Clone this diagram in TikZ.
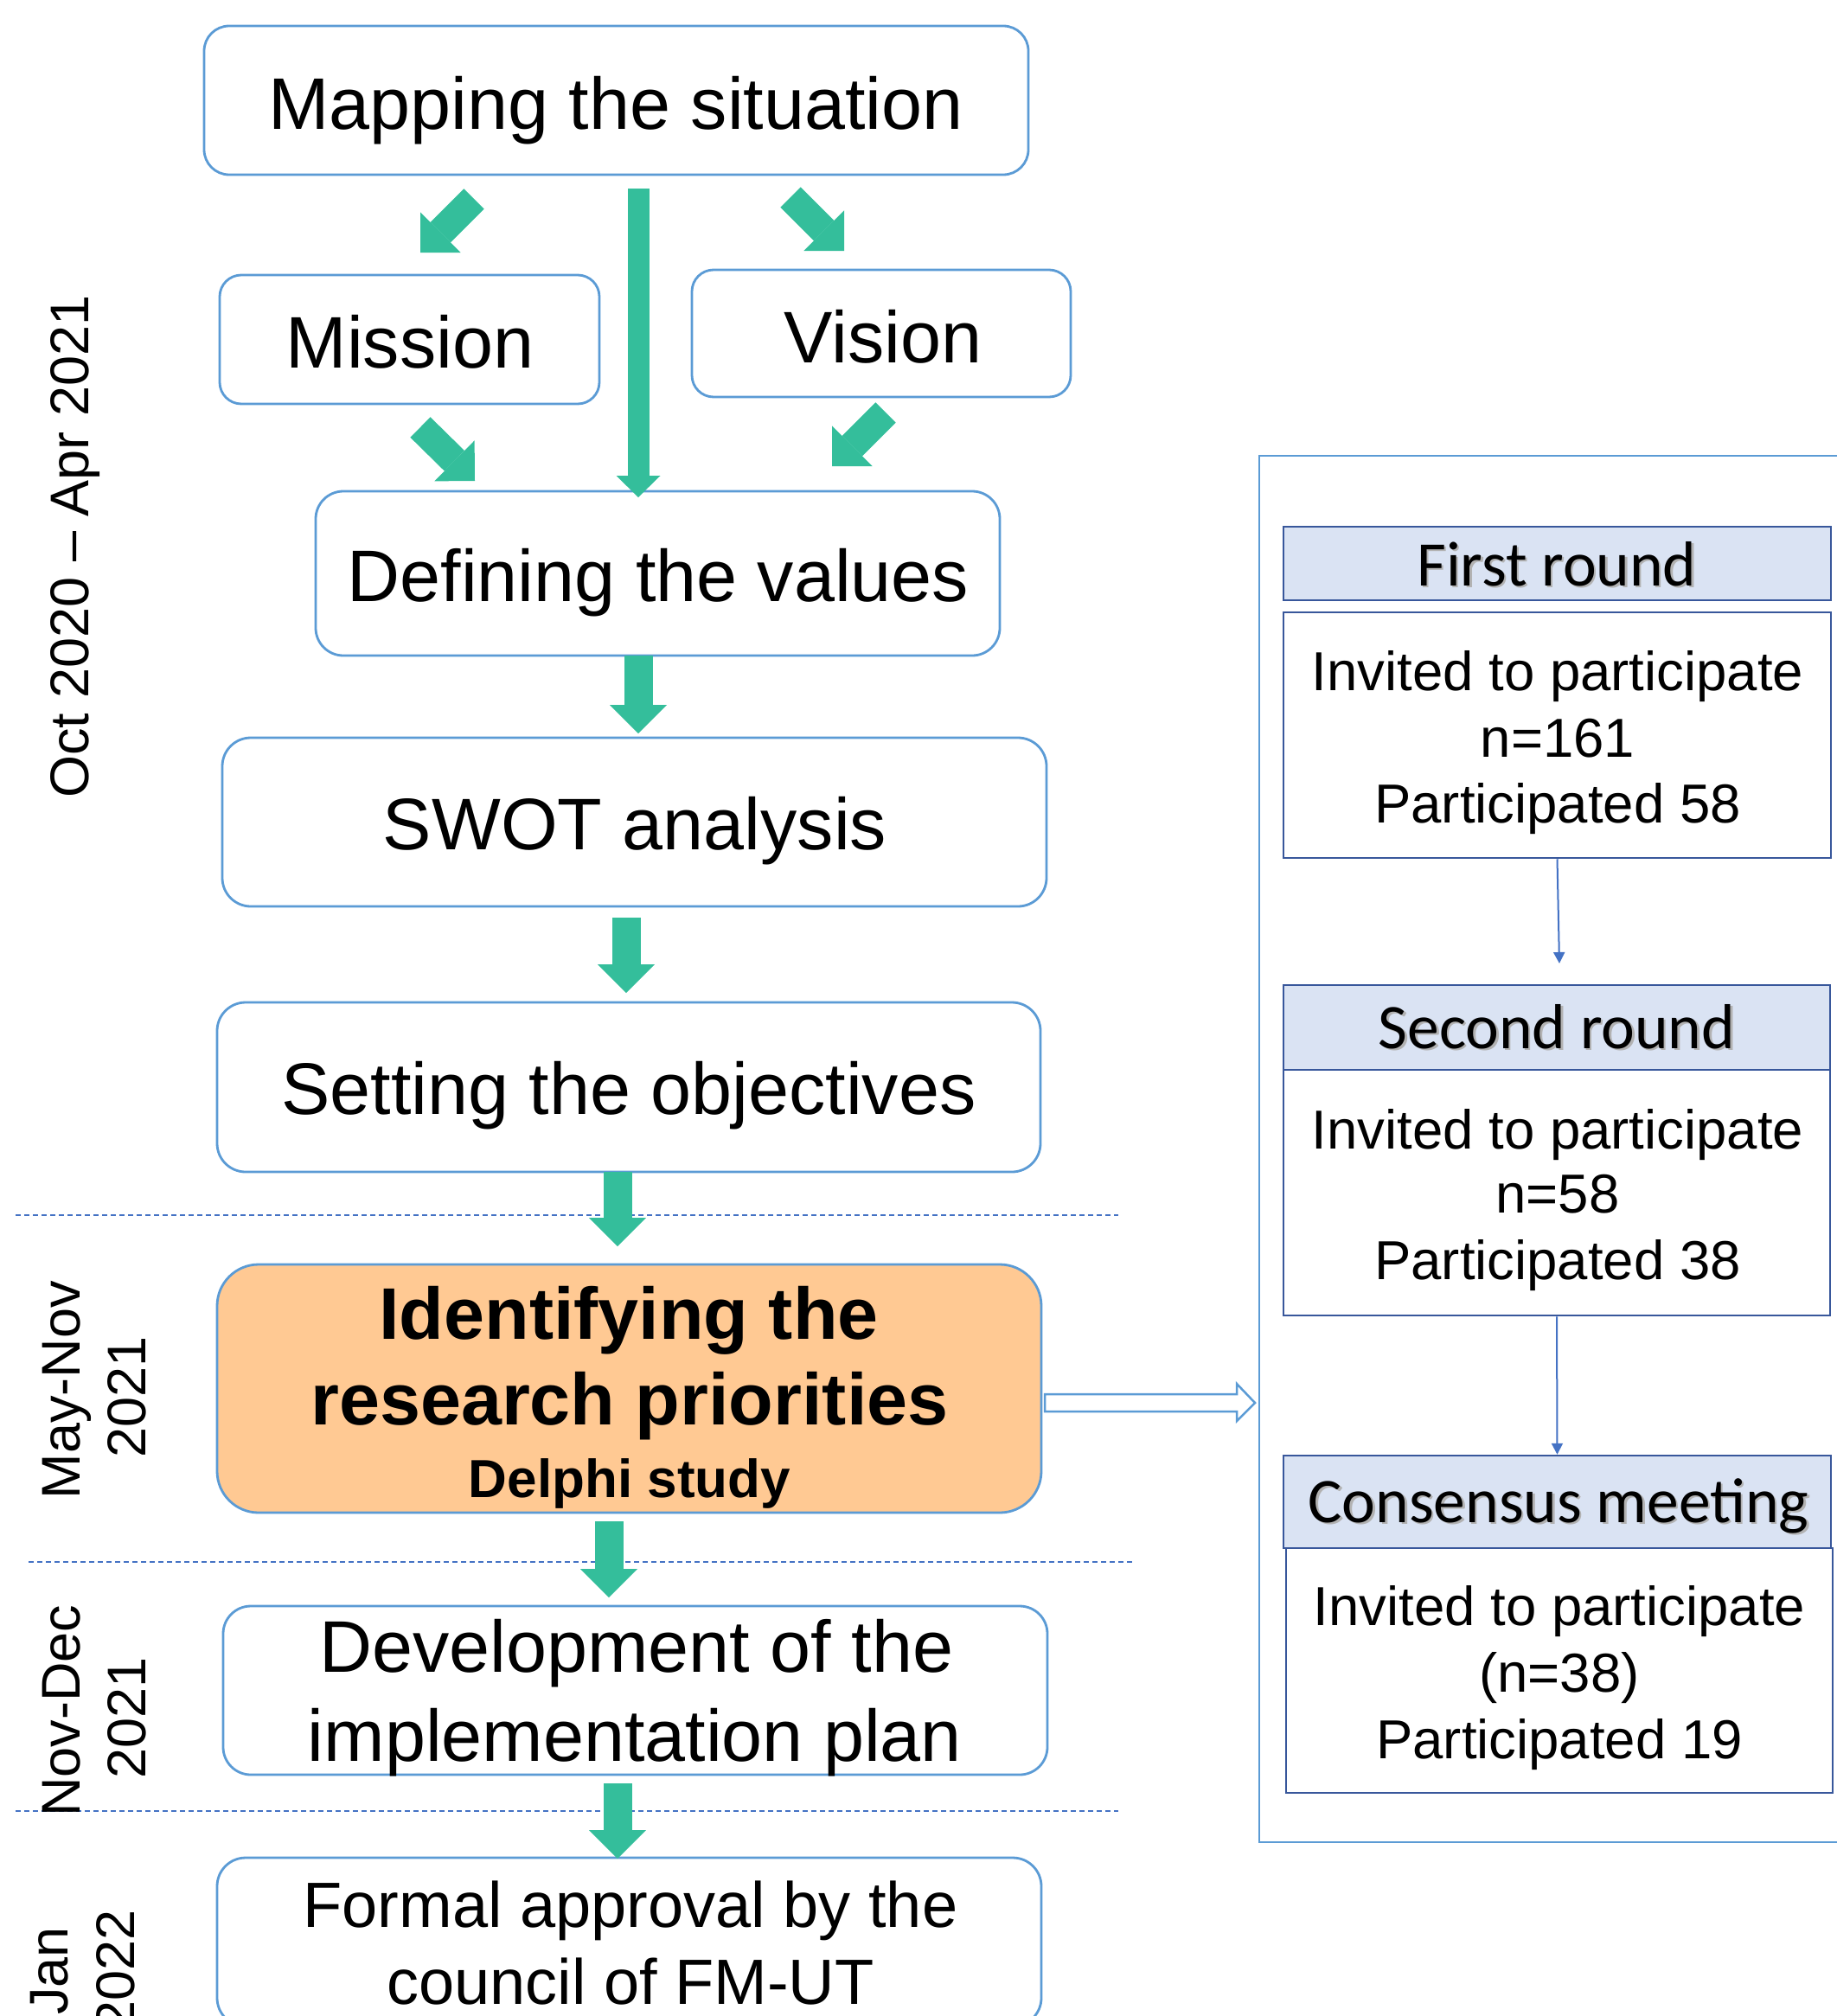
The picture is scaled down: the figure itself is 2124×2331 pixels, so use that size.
\documentclass[tikz,border=0pt]{standalone}
\usepackage{fontspec}
\setmainfont{Liberation Sans}
\newfontfamily\calibrifont{Carlito}
\usetikzlibrary{arrows.meta,calc}
\definecolor{boxblue}{RGB}{91,155,213}
\definecolor{tealg}{RGB}{52,190,155}
\definecolor{orangef}{RGB}{255,201,147}
\definecolor{dkblue}{RGB}{56,87,155}
\definecolor{hdrfill}{RGB}{218,227,243}
\definecolor{dashblue}{RGB}{68,114,196}
\newcommand{\fsz}[1]{\fontsize{#1}{#1}\selectfont}
\begin{document}
\begin{tikzpicture}[x=1pt,y=-1pt,
  mbox/.style={rectangle, draw=boxblue, line width=2.8pt, fill=white, inner sep=0pt},
  mtxt/.style={anchor=base, inner sep=0pt, font=\fsz{84.5}},
  ftxt/.style={anchor=base, inner sep=0pt, font=\fsz{74}},
  btxt/.style={anchor=base, inner sep=0pt, font=\fsz{84.5}\bfseries},
  dtxt/.style={anchor=base, inner sep=0pt, rotate=90, font=\fsz{63}},
  garrow/.style={draw=tealg, line width=33pt, -{Triangle[length=33pt,width=66pt,line width=0pt]}},
  sepline/.style={draw=dashblue, line width=1.5pt, dash pattern=on 6pt off 4pt},
  hbox/.style={rectangle, draw=dkblue, line width=2.5pt, fill=hdrfill, inner sep=0pt},
  pbox/.style={rectangle, draw=dkblue, line width=2.5pt, fill=white, inner sep=0pt},
  htxt/.style={anchor=base, inner sep=0pt, font=\calibrifont\fsz{73.5}},
  hshadow/.style={htxt, text=black!30},
  ptxt/.style={anchor=base, inner sep=0pt, font=\fsz{63.5}},
  parrow/.style={draw=dashblue, line width=2pt, -{Triangle[length=13pt,width=13pt]}}
]
\useasboundingbox (0,0) rectangle (2124,2331);

% separators
\draw[sepline] (18,1405) -- (1293,1405);
\draw[sepline] (33,1806) -- (1311,1806);
\draw[sepline] (18,2094) -- (1293,2094);

% right panel frame
\draw[draw=boxblue, line width=2.5pt] (1456,527) rectangle (2170,2130);

% main boxes
\node[mbox, minimum width=953pt, minimum height=172pt, rounded corners=29pt] (map) at (712.5,116) {};
\node[mbox, minimum width=439pt, minimum height=149pt, rounded corners=25pt] (mission) at (473.5,392.5) {};
\node[mbox, minimum width=438pt, minimum height=147pt, rounded corners=25pt] (vision) at (1019,385.5) {};
\node[mbox, minimum width=791pt, minimum height=190pt, rounded corners=32pt] (def) at (760.5,663) {};
\node[mbox, minimum width=953pt, minimum height=195pt, rounded corners=33pt] (swot) at (733.5,950.5) {};
\node[mbox, minimum width=952pt, minimum height=196pt, rounded corners=33pt] (obj) at (727,1257) {};
\node[mbox, fill=orangef, minimum width=953pt, minimum height=287pt, rounded corners=48pt] (ident) at (727.5,1605.5) {};
\node[mbox, minimum width=953pt, minimum height=195pt, rounded corners=32pt] (dev) at (734.5,1954.5) {};
\node[mbox, minimum width=953pt, minimum height=195pt, rounded corners=33pt] (formal) at (727.5,2245.5) {};

% main texts
\node[mtxt] (mapt) at (712,149) {Mapping the situation};
\node[mtxt] (missiont) at (474,425) {Mission};
\node[mtxt] (visiont) at (1021,419) {Vision};
\node[mtxt] (deft) at (761,695) {Defining the values};
\node[mtxt] (swott) at (734,982) {SWOT analysis};
\node[mtxt] (objt) at (727,1288) {Setting the objectives};
\node[btxt] (identa) at (727,1548) {Identifying the};
\node[btxt] (identb) at (728,1647) {research priorities};
\node[anchor=base, inner sep=0pt, font=\fsz{62}\bfseries] (identc) at (728,1731) {Delphi study};
\node[mtxt] (deva) at (736,1933) {Development of the};
\node[mtxt] (devb) at (734,2036) {implementation plan};
\node[ftxt] (formala) at (729,2228) {Formal approval by the};
\node[ftxt] (formalb) at (729,2317) {council of FM-UT};

% date labels
\node[dtxt] (l1) at (102,632) {Oct 2020 – Apr 2021};
\node[dtxt] (l2a) at (92,1607) {May-Nov};
\node[dtxt] (l2b) at (168,1615) {2021};
\node[dtxt] (l3a) at (92,1978) {Nov-Dec};
\node[dtxt] (l3b) at (168,1986) {2021};
\node[dtxt] (l4a) at (78,2279) {Jan};
\node[dtxt] (l4b) at (155,2278) {2022};

% green block arrows
\coordinate (d1s) at (548,230);  \coordinate (d1e) at (486,292);
\coordinate (d2s) at (914,228);  \coordinate (d2e) at (976,290);
\coordinate (d3s) at (486,494);  \coordinate (d3e) at (549,556);
\coordinate (d4s) at (1024,477); \coordinate (d4e) at (962,539);
\coordinate (v0s) at (738,218);  \coordinate (v0e) at (738,575);
\coordinate (v1s) at (738,758);  \coordinate (v1e) at (738,848);
\coordinate (v2s) at (724,1061); \coordinate (v2e) at (724,1148);
\coordinate (v3s) at (714,1355); \coordinate (v3e) at (714,1441);
\coordinate (v4s) at (704,1759); \coordinate (v4e) at (704,1847);
\coordinate (v5s) at (714,2062); \coordinate (v5e) at (714,2149);
\draw[garrow] (d1s) -- (d1e);
\draw[garrow] (d2s) -- (d2e);
\draw[garrow] (d3s) -- (d3e);
\draw[garrow] (d4s) -- (d4e);
\draw[garrow, line width=25pt, -{Triangle[length=25pt,width=51pt,line width=0pt]}] (v0s) -- (v0e);
\draw[garrow] (v1s) -- (v1e);
\draw[garrow] (v2s) -- (v2e);
\draw[garrow] (v3s) -- (v3e);
\draw[garrow] (v4s) -- (v4e);
\draw[garrow] (v5s) -- (v5e);

% hollow arrow to the Delphi panel
\coordinate (oa) at (1208,1622);
\draw[draw=boxblue, line width=2.5pt, fill=white, line join=miter]
  (oa) ++(0,-10) -- ++(222,0) -- ++(0,-12) -- ++(21,22) -- ++(-21,21) -- ++(0,-11) -- ++(-222,0) -- cycle;

% Delphi panel
\node[hbox, minimum width=633pt, minimum height=85pt] (h1) at (1800.5,651.5) {};
\node[pbox, minimum width=633pt, minimum height=284pt] (b1) at (1800.5,850) {};
\node[hbox, minimum width=632pt, minimum height=98pt] (h2) at (1800,1188) {};
\node[pbox, minimum width=632pt, minimum height=284pt] (b2) at (1800,1379) {};
\node[hbox, minimum width=633pt, minimum height=107pt] (h3) at (1800.5,1736.5) {};
\node[pbox, minimum width=632pt, minimum height=283pt] (b3) at (1803,1931.5) {};

\node[hshadow] (h1s) at (1802.5,679.5) {First round};
\node[htxt] (h1t) at (1800,677) {First round};
\node[hshadow] (h2s) at (1802.5,1214.5) {Second round};
\node[htxt] (h2t) at (1800,1212) {Second round};
\node[hshadow] (h3s) at (1804.5,1762.5) {Consensus meeting};
\node[htxt] (h3t) at (1802,1760) {Consensus meeting};

\node[ptxt] (b1a) at (1801,798) {Invited to participate};
\node[ptxt] (b1b) at (1801,875) {n=161};
\node[ptxt] (b1c) at (1801,951) {Participated 58};
\node[ptxt] (b2a) at (1801,1328) {Invited to participate};
\node[ptxt] (b2b) at (1801,1402) {n=58};
\node[ptxt] (b2c) at (1801,1479) {Participated 38};
\node[ptxt] (b3a) at (1803,1879) {Invited to participate};
\node[ptxt] (b3b) at (1803,1956) {(n=38)};
\node[ptxt] (b3c) at (1803,2033) {Participated 19};

\coordinate (p1e) at (1803,1114);
\draw[parrow] (b1.south) -- (p1e);
\draw[parrow] (b2.south) -- (h3.north);
\end{tikzpicture}
\end{document}
